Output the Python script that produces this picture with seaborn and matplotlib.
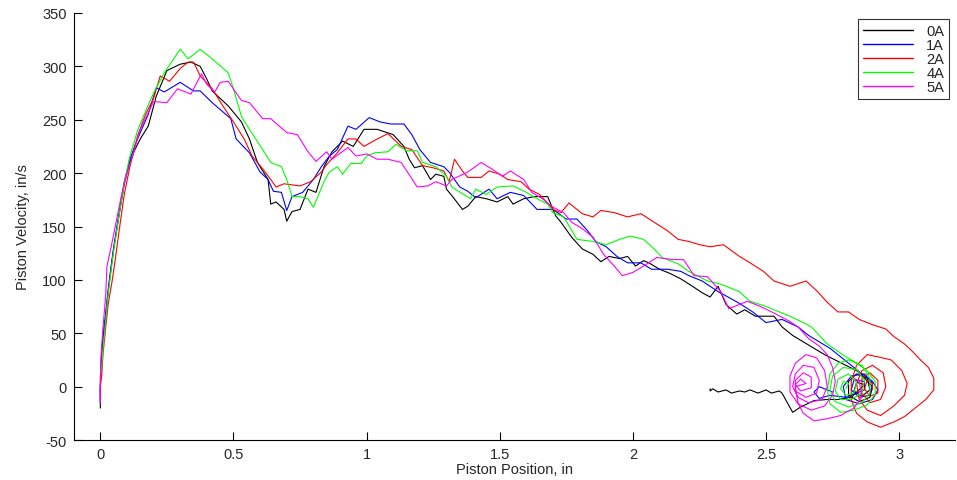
import matplotlib
matplotlib.use("Agg")
import matplotlib.pyplot as plt
import seaborn as sns
import pandas as pd

# ---- data ----
series_names = ["0A", "1A", "2A", "4A", "5A"]
series_colors = ["#000000", "#0000ff", "#ff0000", "#00ff00", "#ff00ff"]

x_0A = [0.0, 0.0, 0.003, 0.01, 0.02, 0.03, 0.04, 0.05, 0.07, 0.09, 0.11, 0.13, 0.15, 0.18, 0.21, 0.25,
        0.30, 0.34, 0.375, 0.40, 0.42, 0.48, 0.53, 0.56, 0.59, 0.63, 0.64, 0.66, 0.69, 0.70, 0.72, 0.75,
        0.78, 0.81, 0.84, 0.87, 0.91, 0.95, 0.99, 1.04, 1.10, 1.14, 1.16, 1.18, 1.21, 1.24, 1.26, 1.29,
        1.30, 1.32, 1.36, 1.38, 1.41, 1.45, 1.49, 1.53, 1.55, 1.59, 1.63, 1.68, 1.71, 1.73, 1.77, 1.81,
        1.85, 1.88, 1.91, 1.95, 1.98, 2.01, 2.04, 2.06, 2.10, 2.14, 2.18, 2.23, 2.26, 2.29, 2.32, 2.35,
        2.39, 2.42, 2.46, 2.50, 2.53, 2.56, 2.60, 2.64, 2.68, 2.72, 2.76, 2.80, 2.84,
        2.87, 2.90, 2.89, 2.85, 2.81, 2.81, 2.84, 2.88, 2.89, 2.86, 2.83, 2.84, 2.87,
        2.82, 2.77, 2.73, 2.68, 2.63, 2.60, 2.58, 2.56, 2.55, 2.52, 2.50, 2.47, 2.44, 2.42, 2.40,
        2.37, 2.35, 2.32, 2.30, 2.29, 2.29]
y_0A = [-20, 0, 20, 45, 66, 90, 110, 129, 160, 190, 210, 222, 232, 244, 272, 296,
        302, 304, 300, 288, 277, 263, 248, 232, 210, 194, 171, 173, 166, 155, 164, 166,
        185, 182, 206, 220, 230, 225, 241, 241, 236, 225, 213, 205, 207, 194, 199, 197,
        185, 179, 166, 169, 178, 176, 173, 178, 171, 176, 178, 178, 160, 154, 140, 129,
        124, 117, 122, 120, 122, 113, 118, 116, 110, 106, 101, 93, 88, 84, 94, 77,
        68, 72, 66, 66, 66, 56, 48, 42, 36, 30, 25, 20, 15,
        8, 0, -10, -14, -8, 5, 12, 8, -3, -9, -4, 4, 2,
        -10, -12, -12, -13, -19, -24, -15, -6, -4, -6, -3, -6, -3, -5, -4,
        -6, -3, -5, -2, -4, -2]

x_1A = [0.0, 0.0, 0.003, 0.01, 0.02, 0.03, 0.04, 0.05, 0.07, 0.09, 0.11, 0.13, 0.15, 0.18, 0.21, 0.24,
        0.30, 0.35, 0.375, 0.42, 0.49, 0.51, 0.56, 0.60, 0.63, 0.65, 0.68, 0.70, 0.72, 0.76, 0.80, 0.83,
        0.86, 0.89, 0.93, 0.96, 1.01, 1.05, 1.09, 1.14, 1.17, 1.20, 1.24, 1.29, 1.31, 1.35, 1.38, 1.41,
        1.46, 1.49, 1.54, 1.59, 1.64, 1.70, 1.75, 1.79, 1.83, 1.86, 1.90, 1.94, 1.98, 2.03, 2.07, 2.13,
        2.18, 2.21, 2.26, 2.32, 2.35, 2.40, 2.45, 2.50, 2.56, 2.62, 2.66, 2.70, 2.74, 2.78, 2.82, 2.86,
        2.90, 2.92, 2.90, 2.85, 2.80, 2.79, 2.82, 2.87, 2.90, 2.89, 2.85, 2.82, 2.83, 2.87, 2.87,
        2.80, 2.74, 2.70, 2.68, 2.70, 2.75]
y_1A = [-15, 0, 25, 48, 68, 92, 112, 130, 162, 192, 212, 226, 238, 255, 280, 276,
        285, 277, 277, 266, 251, 232, 219, 201, 194, 183, 182, 165, 178, 182, 194, 206,
        216, 222, 244, 241, 252, 248, 246, 246, 236, 222, 210, 206, 201, 187, 183, 177,
        185, 176, 182, 179, 166, 166, 157, 157, 146, 136, 131, 122, 116, 116, 110, 110,
        108, 104, 99, 89, 85, 78, 70, 60, 63, 56, 48, 42, 36, 28, 20, 12,
        5, -3, -12, -16, -12, 0, 10, 12, 3, -8, -10, -3, 6, 5, -3,
        -10, -8, -11, -5, 0, -5]

x_2A = [0.0, 0.0, 0.005, 0.01, 0.02, 0.03, 0.045, 0.056, 0.07, 0.09, 0.11, 0.14, 0.17, 0.20, 0.225, 0.26,
        0.30, 0.33, 0.35, 0.375, 0.42, 0.46, 0.50, 0.54, 0.57, 0.61, 0.64, 0.66, 0.69, 0.75, 0.79, 0.83,
        0.85, 0.89, 0.93, 0.96, 0.99, 1.04, 1.08, 1.13, 1.17, 1.21, 1.25, 1.29, 1.31, 1.33, 1.36, 1.38,
        1.43, 1.46, 1.50, 1.53, 1.58, 1.61, 1.65, 1.70, 1.73, 1.76, 1.81, 1.85, 1.88, 1.93, 1.98, 2.03,
        2.08, 2.13, 2.17, 2.21, 2.25, 2.29, 2.34, 2.40, 2.44, 2.49, 2.53, 2.59, 2.65, 2.69, 2.73, 2.77,
        2.81, 2.85, 2.90, 2.95, 2.98, 3.02, 3.05, 3.08, 3.11, 3.13, 3.13, 3.10, 3.06, 3.02, 2.98, 2.93,
        2.88, 2.84, 2.82, 2.82, 2.84, 2.88, 2.92, 2.97, 3.01, 3.03, 3.02, 2.98, 2.93, 2.88, 2.85, 2.84,
        2.86, 2.90, 2.94, 2.95, 2.93, 2.89, 2.86, 2.86, 2.89, 2.92, 2.92, 2.89, 2.87, 2.88, 2.90, 2.90]
y_2A = [-10, 0, 10, 30, 55, 78, 100, 119, 145, 180, 205, 235, 255, 270, 291, 286,
        298, 304, 304, 291, 279, 263, 248, 232, 216, 204, 194, 187, 190, 188, 192, 201,
        208, 219, 232, 232, 225, 232, 237, 225, 222, 207, 205, 202, 192, 213, 202, 196,
        196, 202, 199, 194, 192, 185, 180, 166, 163, 172, 162, 159, 165, 163, 159, 162,
        154, 146, 138, 136, 133, 131, 133, 122, 116, 108, 99, 94, 99, 90, 79, 70,
        70, 63, 58, 54, 47, 40, 33, 25, 18, 8, -3, -12, -20, -28, -33, -38,
        -33, -25, -12, 5, 20, 30, 28, 25, 15, 3, -8, -18, -27, -22, -12, 3,
        15, 20, 13, 0, -12, -15, -6, 8, 13, 6, -6, -9, -2, 6, 3, -3]

x_4A = [0.0, 0.0, 0.005, 0.01, 0.02, 0.03, 0.04, 0.05, 0.07, 0.09, 0.11, 0.14, 0.17, 0.20, 0.24, 0.27,
        0.30, 0.33, 0.375, 0.42, 0.48, 0.50, 0.53, 0.56, 0.61, 0.64, 0.68, 0.70, 0.72, 0.75, 0.78, 0.80,
        0.84, 0.86, 0.89, 0.91, 0.94, 0.98, 1.00, 1.03, 1.08, 1.11, 1.15, 1.19, 1.21, 1.26, 1.30, 1.32,
        1.39, 1.41, 1.45, 1.49, 1.55, 1.60, 1.64, 1.68, 1.70, 1.74, 1.79, 1.85, 1.90, 1.95, 1.99, 2.04,
        2.08, 2.11, 2.17, 2.21, 2.28, 2.33, 2.40, 2.44, 2.49, 2.54, 2.59, 2.64, 2.67, 2.70, 2.73, 2.77,
        2.80, 2.84, 2.88, 2.91, 2.91, 2.88, 2.83, 2.78, 2.74, 2.73, 2.74, 2.77, 2.81, 2.86, 2.89, 2.89,
        2.86, 2.81, 2.76, 2.74, 2.75, 2.79, 2.84, 2.87, 2.86, 2.82, 2.78, 2.76, 2.77, 2.81, 2.84, 2.83,
        2.80, 2.78, 2.79, 2.81, 2.80]
y_4A = [5, 10, 18, 35, 62, 88, 108, 127, 160, 190, 215, 240, 258, 275, 294, 305,
        316, 307, 316, 307, 294, 279, 253, 241, 222, 210, 206, 194, 178, 178, 176, 168,
        192, 201, 206, 199, 209, 209, 216, 219, 220, 227, 221, 221, 210, 206, 197, 187,
        176, 185, 180, 187, 188, 182, 176, 171, 163, 159, 138, 136, 133, 138, 141, 138,
        129, 121, 115, 108, 99, 96, 89, 80, 76, 71, 66, 60, 56, 48, 40, 33,
        28, 22, 15, 5, -7, -17, -22, -24, -16, -3, 12, 22, 25, 20, 8, -6,
        -15, -19, -14, -3, 10, 18, 16, 6, -6, -12, -12, -4, 7, 12, 4, -6,
        -8, -2, 5, 3, -2]

x_5A = [0.0, 0.0, 0.003, 0.01, 0.02, 0.025, 0.04, 0.06, 0.08, 0.10, 0.12, 0.15, 0.20, 0.25, 0.29, 0.34,
        0.38, 0.40, 0.43, 0.45, 0.48, 0.53, 0.56, 0.61, 0.64, 0.70, 0.74, 0.78, 0.81, 0.85, 0.87, 0.93,
        0.96, 1.00, 1.04, 1.08, 1.13, 1.19, 1.23, 1.26, 1.30, 1.32, 1.38, 1.43, 1.47, 1.51, 1.54, 1.59,
        1.62, 1.66, 1.70, 1.74, 1.77, 1.81, 1.85, 1.89, 1.93, 1.96, 2.00, 2.04, 2.09, 2.15, 2.19, 2.23,
        2.28, 2.33, 2.36, 2.43, 2.48, 2.53, 2.59, 2.62, 2.66, 2.70, 2.73, 2.75, 2.76, 2.75, 2.72, 2.67,
        2.62, 2.59, 2.59, 2.61, 2.65, 2.69, 2.72, 2.73, 2.71, 2.66, 2.62, 2.60, 2.61, 2.64, 2.68, 2.70,
        2.69, 2.65, 2.61, 2.61, 2.64, 2.67, 2.67, 2.63, 2.61, 2.63, 2.65, 2.61,
        2.62, 2.64, 2.68, 2.73, 2.78, 2.83, 2.86, 2.85, 2.83]
y_5A = [-15, 5, 30, 55, 85, 113, 130, 155, 180, 200, 215, 241, 267, 266, 279, 274,
        293, 283, 276, 285, 286, 268, 266, 251, 251, 238, 236, 220, 211, 220, 213, 224,
        216, 218, 213, 213, 210, 187, 188, 192, 188, 194, 201, 210, 204, 197, 202, 194,
        182, 176, 168, 163, 154, 148, 140, 124, 113, 104, 107, 113, 121, 119, 119, 104,
        103, 89, 73, 80, 75, 69, 61, 56, 45, 38, 30, 18, 5, -8, -18, -22,
        -16, -5, 10, 22, 30, 27, 15, 0, -12, -15, -10, 0, 12, 20, 18, 6,
        -6, -10, -4, 6, 13, 9, -1, -4, 2, 7, 3, 0,
        -15, -25, -32, -30, -27, -20, -10, 5, 8]

x_ticks = [0, 0.5, 1, 1.5, 2, 2.5, 3]
x_tick_labels = ["0", "0.5", "1", "1.5", "2", "2.5", "3"]
y_ticks = [-50, 0, 50, 100, 150, 200, 250, 300, 350]
y_tick_labels = ["-50", "0", "50", "100", "150", "200", "250", "300", "350"]
x_label = "Piston Position, in"
y_label = "Piston Velocity, in/s"

# ---- build long table ----
xs = [x_0A, x_1A, x_2A, x_4A, x_5A]
ys = [y_0A, y_1A, y_2A, y_4A, y_5A]
frames = []
for name, xv, yv in zip(series_names, xs, ys):
    frames.append(pd.DataFrame({"x": xv, "y": yv, "series": name}))
df = pd.concat(frames, ignore_index=True)

sns.set_style("white")
plt.rcParams["font.family"] = ["Liberation Sans", "DejaVu Sans"]
plt.rcParams["axes.unicode_minus"] = False

fig = plt.figure(figsize=(9.57, 4.81), dpi=100)
ax = fig.add_axes([0.077, 0.083, 0.921, 0.888])

sns.lineplot(data=df, x="x", y="y", hue="series", hue_order=series_names,
             palette=dict(zip(series_names, series_colors)), sort=False,
             estimator=None, linewidth=0.8, ax=ax)

ax.set_xlim(-0.1, 3.21)
ax.set_ylim(-50, 350)
ax.set_xticks(x_ticks)
ax.set_xticklabels(x_tick_labels)
ax.set_yticks(y_ticks)
ax.set_yticklabels(y_tick_labels)
ax.tick_params(axis="both", which="major", bottom=True, left=True, direction="in",
               labelsize=10.5, length=6, width=0.8, color="black", pad=5)
ax.set_xlabel(x_label, fontsize=10.5, labelpad=1)
ax.set_ylabel(y_label, fontsize=10.5, labelpad=9)
for s in ["top", "right"]:
    ax.spines[s].set_visible(False)
for s in ["left", "bottom"]:
    ax.spines[s].set_color("black")
    ax.spines[s].set_linewidth(0.8)

leg = ax.legend(loc="upper right", frameon=True, fancybox=False, edgecolor="black",
                fontsize=10.5, handlelength=3.4, labelspacing=0.0, borderpad=0.35,
                borderaxespad=0.4, handletextpad=0.9, title=None)
leg.get_frame().set_linewidth(0.8)
for line in leg.get_lines():
    line.set_linewidth(1.0)

fig.savefig("out.png", dpi=100)
